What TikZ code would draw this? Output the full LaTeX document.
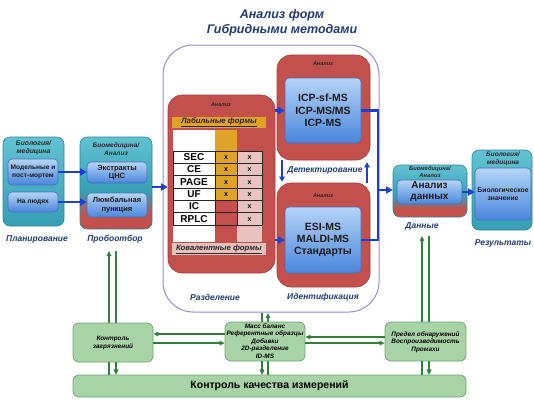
\documentclass[tikz,border=0pt]{standalone}
\usepackage{fontspec}
\setmainfont{Liberation Sans}
\usetikzlibrary{arrows.meta}
\definecolor{navy}{HTML}{1F3B73}
\definecolor{tealL}{HTML}{62C2D3}
\definecolor{tealM}{HTML}{369FB3}
\definecolor{tealD}{HTML}{2B8696}
\definecolor{blueL}{HTML}{B4D4F7}
\definecolor{blueM}{HTML}{4A86DC}
\definecolor{blueD}{HTML}{4670B8}
\definecolor{redM}{HTML}{C3504C}
\definecolor{redD}{HTML}{A03E3B}
\definecolor{yel}{HTML}{DFA328}
\definecolor{pinkc}{HTML}{E8C2BF}
\definecolor{greenF}{HTML}{A8D3A6}
\definecolor{greenD}{HTML}{6FA46E}
\definecolor{greenA}{HTML}{2F7F3A}
\definecolor{arrblue}{HTML}{1C3FD4}
\definecolor{lavc}{HTML}{9A8AC8}
\pgfdeclareverticalshading{tealred}{100bp}{color(0bp)=(redM); color(25bp)=(redM); color(33bp)=(redM); color(45bp)=(tealM); color(75bp)=(tealL); color(100bp)=(tealL)}
\tikzset{
  tealbox/.style={draw=tealD, line width=0.6pt, rounded corners=7pt, top color=tealL, bottom color=tealM, inner sep=0pt},
  mixbox/.style={draw=tealD, line width=0.6pt, rounded corners=7pt, shade, shading=tealred, inner sep=0pt},
  bluebox/.style={draw=blueD, line width=0.6pt, rounded corners=4pt, top color=blueL, bottom color=blueM, inner sep=0pt, align=center, text=black!90},
  redbox/.style={draw=redD, fill=redM, line width=0.6pt, rounded corners=14pt, inner sep=0pt},
  greenbox/.style={draw=greenD, fill=greenF, line width=0.8pt, rounded corners=6pt, inner sep=0pt, align=center},
  lavbox/.style={draw=lavc, line width=1pt, rounded corners=30pt, inner sep=0pt},
  barr/.style={-{Triangle[length=6.5pt,width=7pt]}, line width=2.4pt, draw=arrblue},
  bline/.style={line width=2.4pt, draw=arrblue},
  sarr/.style={-{Triangle[length=5pt,width=5.5pt]}, line width=1.6pt, draw=arrblue},
  garr/.style={-{Triangle[length=5pt,width=4.5pt]}, line width=1.2pt, draw=greenA},
  gline/.style={line width=1.2pt, draw=greenA},
  lbl/.style={font=\fontsize{6.5}{7.5}\selectfont\bfseries\itshape, text=black!85, align=center, inner sep=0pt},
  tiny/.style={font=\fontsize{5.5}{6}\selectfont\bfseries\itshape, text=black!85, inner sep=0pt},
  capt/.style={font=\fontsize{8.5}{10}\selectfont\bfseries\itshape, text=navy, inner sep=0pt},
  tabtxt/.style={font=\fontsize{10}{10}\selectfont\bfseries, inner sep=0pt},
  xm/.style={font=\fontsize{7}{7}\selectfont\bfseries, inner sep=0pt},
  gtxt/.style={font=\fontsize{6.4}{7.5}\selectfont\bfseries\itshape, align=center, inner sep=0pt}
}
\begin{document}
\begin{tikzpicture}[x=1pt,y=-1pt, line join=miter]
\useasboundingbox (0,0) rectangle (534,400);
% title
\node[font=\fontsize{12.5}{15}\selectfont\bfseries\itshape, text=navy, align=center] (title) at (282,23) {Анализ форм\\Гибридными методами};
% lavender frame
\node[lavbox, minimum width=216pt, minimum height=267pt] (lav) at (271,178.5) {};
% left group
\node[tealbox, minimum width=61pt, minimum height=89pt] (bio) at (33.5,181.5) {};
\node[lbl, font=\fontsize{6.8}{8}\selectfont\bfseries\itshape] (biolbl) at (33.5,148) {Биология/\\медицина};
\node[bluebox, minimum width=50pt, minimum height=26pt, font=\fontsize{6.6}{8}\selectfont\bfseries] (model) at (33,172) {Модельные и\\пост-мортем};
\node[bluebox, minimum width=50pt, minimum height=20pt, font=\fontsize{6.6}{8}\selectfont\bfseries] (people) at (33,202) {На людях};
\node[capt] (plan) at (37,239) {Планирование};
% sampling group
\node[mixbox, minimum width=72pt, minimum height=92pt] (samp) at (116,183) {};
\node[lbl] (samplbl) at (116,149) {Биомедицина/\\Анализ};
\node[bluebox, minimum width=60pt, minimum height=21pt, font=\fontsize{7.5}{8.5}\selectfont\bfseries] (extr) at (117,172.5) {Экстракты\\ЦНС};
\node[bluebox, minimum width=60pt, minimum height=24pt, font=\fontsize{7.5}{8.5}\selectfont\bfseries] (lumb) at (117,205) {Люмбальная\\пункция};
\node[capt] (probo) at (115,239) {Пробоотбор};
\draw[barr] (model.east) -- (model.east -| extr.west);
\draw[barr] (people.east) -- (people.east -| lumb.west);
% separation box
\node[redbox, minimum width=107pt, minimum height=178pt] (sep) at (221.5,184) {};
\node[tiny] (seplbl) at (221,105) {Анализ};
\fill[yel] (172,117) rectangle (266,128);
\node[font=\fontsize{7.8}{8}\selectfont\bfseries\itshape, text=black!85, inner sep=0pt] (lab) at (219,122.5) {\underline{Лабильные формы}};
\fill[white] (173,130) rectangle (215,242);
\fill[yel] (215,130) rectangle (237,200);
\fill[pinkc] (237,151) rectangle (262,242);
\fill[pinkc] (172,243) rectangle (266,255);
\node[font=\fontsize{7.8}{8}\selectfont\bfseries\itshape, text=black!85, inner sep=0pt] (cov) at (219,249) {\underline{Ковалентные формы}};
\foreach \i in {0,...,6} \draw[black!85, line width=0.7pt] (173,{151+12.333*\i}) -- (262,{151+12.333*\i});
\foreach \x in {173,215,237,262} \draw[black!85, line width=0.7pt] (\x,151) -- (\x,225);
\foreach [count=\i] \t in {SEC,CE,PAGE,UF,IC,RPLC} \node[tabtxt] (row\i) at (194,{151+12.333*(\i-0.5)}) {\t};
\foreach \i in {1,...,4} \node[xm] (xa\i) at (226,{151.5+12.333*(\i-0.5)}) {x};
\foreach \i in {1,...,6} \node[xm] (xb\i) at (249.5,{151.5+12.333*(\i-0.5)}) {x};
\node[capt] (razd) at (215,297) {Разделение};
% detection / identification
\node[redbox, minimum width=93pt, minimum height=105pt] (det) at (323.5,107.5) {};
\node[tiny] (detlbl) at (323,64) {Анализ};
\node[bluebox, minimum width=76pt, minimum height=65pt, font=\fontsize{10.5}{12.5}\selectfont\bfseries] (icp) at (323,110.5) {ICP-sf-MS\\ICP-MS/MS\\ICP-MS};
\node[redbox, minimum width=93pt, minimum height=104pt] (ident) at (323.5,235) {};
\node[tiny] (idlbl) at (323,196) {Анализ};
\node[bluebox, minimum width=76pt, minimum height=66pt, font=\fontsize{10.5}{12}\selectfont\bfseries] (esi) at (323,240) {ESI-MS\\MALDI-MS\\Стандарты};
\node[capt] (detect) at (325,170) {Детектирование};
\node[capt] (idtxt) at (323,297) {Идентификация};
\coordinate (dx1) at (282,0);
\coordinate (dx2) at (367,0);
\draw[sarr] (det.south -| dx1) -- ([yshift=1pt]ident.north -| dx1);
\draw[sarr] (ident.north -| dx2) -- ([yshift=-2pt]det.south -| dx2);
\draw[barr] ([yshift=-4pt]samp.east) -- ([yshift=-4pt]samp.east -| sep.west);
\draw[barr] (sep.east |- icp.west) -- (icp.west);
\draw[barr] (sep.east |- esi.west) -- (esi.west);
% collector
\coordinate (cTop) at (378,110.5);
\coordinate (cBot) at (378,240);
\coordinate (cMid) at (378,190);
\draw[bline] (icp.east) -- (cTop) -- (cBot) -- (esi.east);
% data
\node[mixbox, minimum width=74pt, minimum height=52pt] (data) at (430,191) {};
\node[lbl, font=\fontsize{5.8}{6.3}\selectfont\bfseries\itshape] (datalbl) at (430,172) {Биомедицина/\\Анализ};
\node[bluebox, minimum width=65pt, minimum height=24pt, font=\fontsize{10}{11}\selectfont\bfseries] (dan) at (429.5,192) {Анализ\\данных};
\node[capt] (dannye) at (422,226) {Данные};
\draw[barr] (cMid) -- (cMid -| data.west);
% results
\node[tealbox, minimum width=60pt, minimum height=80pt] (res) at (502,190) {};
\node[lbl] (reslbl) at (503,159) {Биология/\\медицина};
\node[bluebox, minimum width=56pt, minimum height=52pt, font=\fontsize{6.8}{8.5}\selectfont\bfseries] (resin) at (503,194) {Биологическое\\значение};
\node[capt] (rezult) at (503,243) {Результаты};
\draw[barr] (dan.east) -- (dan.east -| resin.west);
% green part
\coordinate (a1) at (109,251);
\coordinate (a2) at (116,251);
\coordinate (b1) at (262,0);
\coordinate (b2) at (268,0);
\coordinate (c1) at (422,236);
\coordinate (c2) at (429,236);
\node[greenbox, minimum width=393pt, minimum height=22pt, font=\fontsize{10.5}{12}\selectfont\bfseries] (bar) at (269.5,386) {Контроль качества измерений};
\draw[garr] (a1 |- bar.north) -- (a1);
\draw[garr] (a2) -- (a2 |- bar.north);
\draw[garr] (b2 |- bar.north) -- ([yshift=-0.5pt]b2 |- lav.south);
\draw[garr] (b1 |- lav.south) -- (b1 |- bar.north);
\draw[garr] (c1 |- bar.north) -- (c1);
\draw[garr] (c2) -- (c2 |- bar.north);
\node[greenbox, minimum width=80pt, minimum height=39pt] (g1) at (113,342.5) {};
\node[gtxt] (g1t) at (113,343) {Контроль\\загрязнений};
\node[greenbox, minimum width=80pt, minimum height=39pt] (g2) at (265,341.5) {};
\node[gtxt] (g2t) at (265,341) {Масс баланс\\Референтные образцы\\Добавки\\2D-разделение\\ID-MS};
\node[greenbox, minimum width=81pt, minimum height=39pt] (g3) at (425.5,341.5) {};
\node[gtxt] (g3t) at (425.5,342) {Предел обнаружений\\Воспроизводимость\\Промахи};
\coordinate (h1) at (0,334);
\coordinate (h2) at (0,343);
\coordinate (h3) at (0,337);
\draw[garr] (g2.west |- h1) -- (g1.east |- h1);
\draw[garr] (g1.east |- h2) -- (g2.west |- h2);
\draw[garr] (g3.west |- h3) -- (g2.east |- h3);
\draw[garr] (g2.east |- h2) -- (g3.west |- h2);
% vertical green segments between boxes and bar (drawn over)
\draw[gline] (a1 |- g1.south) -- (a1 |- bar.north);
\draw[garr] (a2 |- g1.south) -- (a2 |- bar.north);
\draw[gline] (b2 |- g2.south) -- (b2 |- bar.north);
\draw[garr] (b1 |- g2.south) -- (b1 |- bar.north);
\draw[gline] (c1 |- g3.south) -- (c1 |- bar.north);
\draw[garr] (c2 |- g3.south) -- (c2 |- bar.north);
\end{tikzpicture}
\end{document}
